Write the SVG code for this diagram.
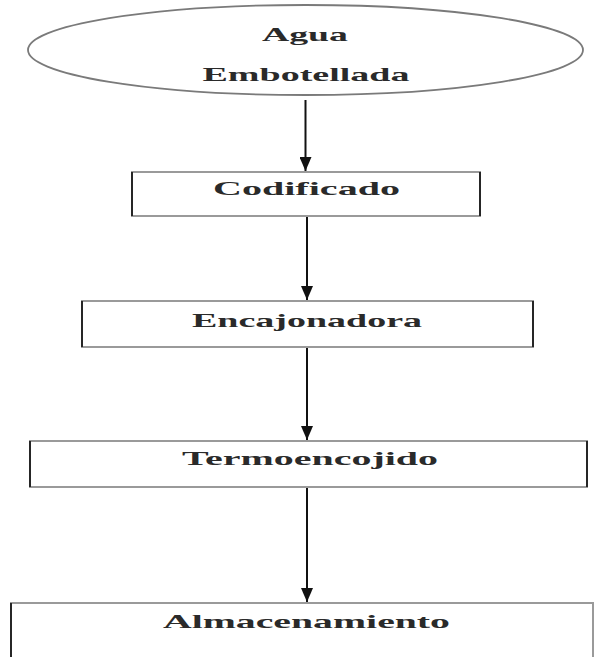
<svg xmlns="http://www.w3.org/2000/svg" width="595" height="657" viewBox="0 0 595 657">
  <style>
    .lbl { font-family: "Liberation Serif", "Times New Roman", serif; font-size: 19px; font-weight: bold; fill: #2a2a2a; text-anchor: middle; letter-spacing: 0; }
    .box { fill: #ffffff; stroke: #9a9a9a; stroke-width: 2; }
    .side { stroke: #1a1a1a; stroke-width: 1.8; fill: none; }
    .conn { stroke: #111; stroke-width: 2; fill: none; }
  </style>
  <defs>
    <marker id="ah" markerWidth="7" markerHeight="6" refX="7" refY="3" orient="auto" markerUnits="strokeWidth">
      <path d="M0,0 L7,3 L0,6 Z" fill="#111"/>
    </marker>
  </defs>
  <rect width="595" height="657" fill="#ffffff"/>

  <g id="agua">
    <ellipse cx="305.5" cy="50" rx="277.5" ry="45" fill="#ffffff" stroke="#7a7a7a" stroke-width="1.8"/>
    <text class="lbl" x="305" y="41" textLength="86" lengthAdjust="spacingAndGlyphs">Agua</text>
    <text class="lbl" x="306" y="81" textLength="207" lengthAdjust="spacingAndGlyphs">Embotellada</text>
  </g>

  <g id="codificado">
    <rect class="box" x="132" y="172" width="348" height="44"/>
    <path class="side" d="M132,172 V216 M480,172 V216"/>
    <text class="lbl" x="306.5" y="195" textLength="187" lengthAdjust="spacingAndGlyphs">Codificado</text>
  </g>

  <g id="encajonadora">
    <rect class="box" x="82" y="301" width="451" height="46"/>
    <path class="side" d="M82,301 V347 M533,301 V347"/>
    <text class="lbl" x="307" y="327" textLength="230" lengthAdjust="spacingAndGlyphs">Encajonadora</text>
  </g>

  <g id="termoencojido">
    <rect class="box" x="30" y="441" width="557" height="46"/>
    <path class="side" d="M30,441 V487 M587,441 V487"/>
    <text class="lbl" x="310" y="465" textLength="256" lengthAdjust="spacingAndGlyphs">Termoencojido</text>
  </g>

  <g id="almacenamiento">
    <rect class="box" x="11" y="603" width="582" height="70"/>
    <path class="side" d="M11,603 V657"/>
    <text class="lbl" x="306.5" y="628" textLength="287" lengthAdjust="spacingAndGlyphs">Almacenamiento</text>
  </g>

  <g id="connectors">
    <line class="conn" x1="305.5" y1="100" x2="305.5" y2="171" marker-end="url(#ah)"/>
    <line class="conn" x1="307" y1="217" x2="307" y2="300" marker-end="url(#ah)"/>
    <line class="conn" x1="307" y1="348" x2="307" y2="440" marker-end="url(#ah)"/>
    <line class="conn" x1="307" y1="488" x2="307" y2="602" marker-end="url(#ah)"/>
  </g>
</svg>
